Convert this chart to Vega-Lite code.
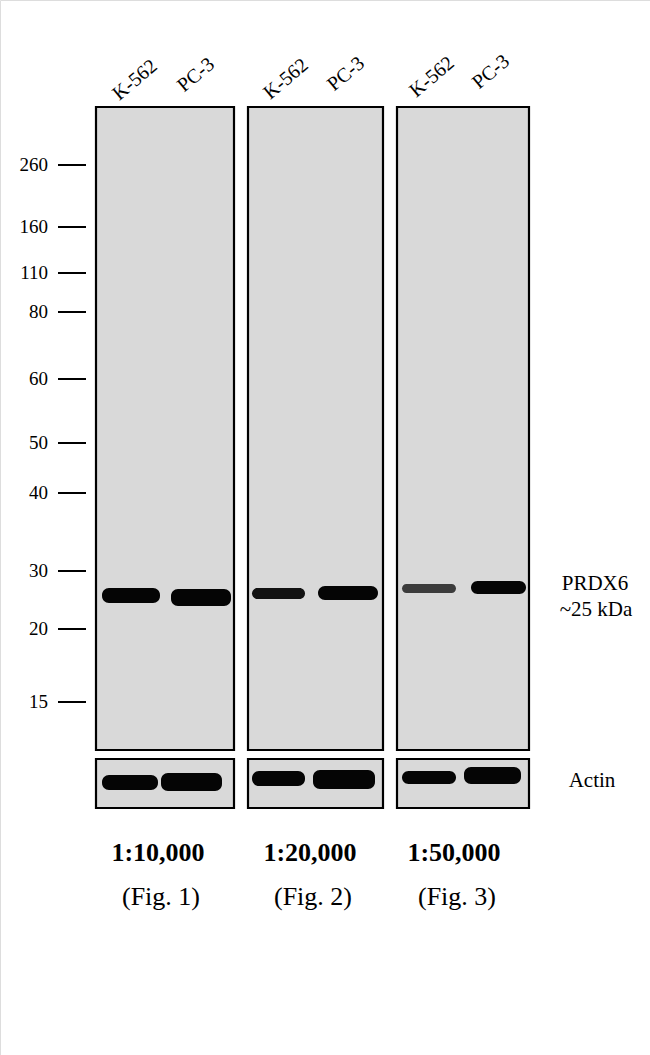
{
  "$schema": "https://vega.github.io/schema/vega-lite/v6.json",
  "width": 650,
  "height": 1055,
  "padding": 0,
  "autosize": {"type": "none"},
  "background": "white",
  "datasets": {
    "panels": [
      {"fig": 1, "blot": "PRDX6", "left": 96, "right": 234, "top": 107, "bottom": 750},
      {"fig": 2, "blot": "PRDX6", "left": 248, "right": 383, "top": 107, "bottom": 750},
      {"fig": 3, "blot": "PRDX6", "left": 397, "right": 529, "top": 107, "bottom": 750},
      {"fig": 1, "blot": "Actin", "left": 96, "right": 234, "top": 759, "bottom": 808},
      {"fig": 2, "blot": "Actin", "left": 248, "right": 383, "top": 759, "bottom": 808},
      {"fig": 3, "blot": "Actin", "left": 397, "right": 529, "top": 759, "bottom": 808}
    ],
    "bands": [
      {"fig": 1, "lane": "K-562", "blot": "PRDX6", "start": 102, "end": 160, "top": 588, "bottom": 603, "signal": 1},
      {"fig": 1, "lane": "PC-3", "blot": "PRDX6", "start": 171, "end": 231, "top": 589, "bottom": 606, "signal": 1},
      {"fig": 2, "lane": "K-562", "blot": "PRDX6", "start": 252, "end": 305, "top": 588, "bottom": 599, "signal": 0.95},
      {"fig": 2, "lane": "PC-3", "blot": "PRDX6", "start": 318, "end": 378, "top": 586, "bottom": 600, "signal": 1},
      {"fig": 3, "lane": "K-562", "blot": "PRDX6", "start": 402, "end": 456, "top": 584, "bottom": 593, "signal": 0.72},
      {"fig": 3, "lane": "PC-3", "blot": "PRDX6", "start": 471, "end": 526, "top": 581, "bottom": 594, "signal": 1},
      {"fig": 1, "lane": "K-562", "blot": "Actin", "start": 102, "end": 158, "top": 775, "bottom": 790, "signal": 1},
      {"fig": 1, "lane": "PC-3", "blot": "Actin", "start": 161, "end": 222, "top": 773, "bottom": 791, "signal": 1},
      {"fig": 2, "lane": "K-562", "blot": "Actin", "start": 252, "end": 305, "top": 771, "bottom": 786, "signal": 1},
      {"fig": 2, "lane": "PC-3", "blot": "Actin", "start": 313, "end": 375, "top": 770, "bottom": 789, "signal": 1},
      {"fig": 3, "lane": "K-562", "blot": "Actin", "start": 402, "end": 456, "top": 771, "bottom": 784, "signal": 1},
      {"fig": 3, "lane": "PC-3", "blot": "Actin", "start": 464, "end": 521, "top": 767, "bottom": 784, "signal": 1}
    ],
    "ladder": [
      {"kDa": "260", "migration": 165},
      {"kDa": "160", "migration": 227},
      {"kDa": "110", "migration": 273},
      {"kDa": "80", "migration": 312},
      {"kDa": "60", "migration": 379},
      {"kDa": "50", "migration": 443},
      {"kDa": "40", "migration": 493},
      {"kDa": "30", "migration": 571},
      {"kDa": "20", "migration": 629},
      {"kDa": "15", "migration": 702}
    ],
    "lanes": [
      {"lane": "K-562", "cx": 135, "cy": 80},
      {"lane": "PC-3", "cx": 196, "cy": 75},
      {"lane": "K-562", "cx": 286, "cy": 79},
      {"lane": "PC-3", "cx": 346, "cy": 74},
      {"lane": "K-562", "cx": 432, "cy": 77},
      {"lane": "PC-3", "cx": 491, "cy": 72}
    ],
    "dilutions": [
      {"dilution": "1:10,000", "figure": "(Fig. 1)", "cx": 158},
      {"dilution": "1:20,000", "figure": "(Fig. 2)", "cx": 310},
      {"dilution": "1:50,000", "figure": "(Fig. 3)", "cx": 454}
    ],
    "targets": [
      {"label": "PRDX6", "cx": 595, "cy": 584},
      {"label": "~25 kDa", "cx": 596, "cy": 610},
      {"label": "Actin", "cx": 592, "cy": 781}
    ]
  },
  "layer": [
    {
      "data": {"name": "panels"},
      "mark": {"type": "rect", "fill": "#d9d9d9", "stroke": "#000000", "strokeWidth": 2.2},
      "encoding": {
        "x": {"field": "left", "type": "quantitative", "scale": {"domain": [0, 650], "nice": false, "zero": false}, "axis": null},
        "x2": {"field": "right"},
        "y": {"field": "top", "type": "quantitative", "scale": {"domain": [0, 1055], "nice": false, "zero": false, "reverse": true}, "axis": null},
        "y2": {"field": "bottom"}
      }
    },
    {
      "data": {"name": "bands"},
      "mark": {"type": "rect", "cornerRadius": 7},
      "encoding": {
        "x": {"field": "start", "type": "quantitative"},
        "x2": {"field": "end"},
        "y": {"field": "top", "type": "quantitative"},
        "y2": {"field": "bottom"},
        "color": {
          "field": "signal",
          "type": "quantitative",
          "scale": {"domain": [0, 1], "range": ["#d9d9d9", "#050505"]},
          "legend": null
        }
      }
    },
    {
      "data": {"name": "ladder"},
      "mark": {"type": "rule", "stroke": "#000000", "strokeWidth": 2},
      "encoding": {
        "x": {"datum": 58, "type": "quantitative"},
        "x2": {"datum": 86},
        "y": {"field": "migration", "type": "quantitative"}
      }
    },
    {
      "data": {"name": "ladder"},
      "mark": {"type": "text", "align": "right", "baseline": "middle", "font": "Liberation Serif", "fontSize": 19, "color": "#000000"},
      "encoding": {
        "x": {"datum": 48, "type": "quantitative"},
        "y": {"field": "migration", "type": "quantitative"},
        "text": {"field": "kDa"}
      }
    },
    {
      "data": {"name": "lanes"},
      "mark": {"type": "text", "align": "center", "baseline": "middle", "angle": 320, "font": "Liberation Serif", "fontSize": 20, "color": "#000000"},
      "encoding": {
        "x": {"field": "cx", "type": "quantitative"},
        "y": {"field": "cy", "type": "quantitative"},
        "text": {"field": "lane"}
      }
    },
    {
      "data": {"name": "dilutions"},
      "mark": {"type": "text", "align": "center", "baseline": "middle", "font": "Liberation Serif", "fontSize": 26, "fontWeight": "bold", "color": "#000000"},
      "encoding": {
        "x": {"field": "cx", "type": "quantitative"},
        "y": {"datum": 853, "type": "quantitative"},
        "text": {"field": "dilution"}
      }
    },
    {
      "data": {"name": "dilutions"},
      "mark": {"type": "text", "align": "center", "baseline": "middle", "font": "Liberation Serif", "fontSize": 26, "color": "#000000", "dx": 3},
      "encoding": {
        "x": {"field": "cx", "type": "quantitative"},
        "y": {"datum": 897, "type": "quantitative"},
        "text": {"field": "figure"}
      }
    },
    {
      "data": {"name": "targets"},
      "mark": {"type": "text", "align": "center", "baseline": "middle", "font": "Liberation Serif", "fontSize": 21, "color": "#000000"},
      "encoding": {
        "x": {"field": "cx", "type": "quantitative"},
        "y": {"field": "cy", "type": "quantitative"},
        "text": {"field": "label"}
      }
    }
  ]
}
